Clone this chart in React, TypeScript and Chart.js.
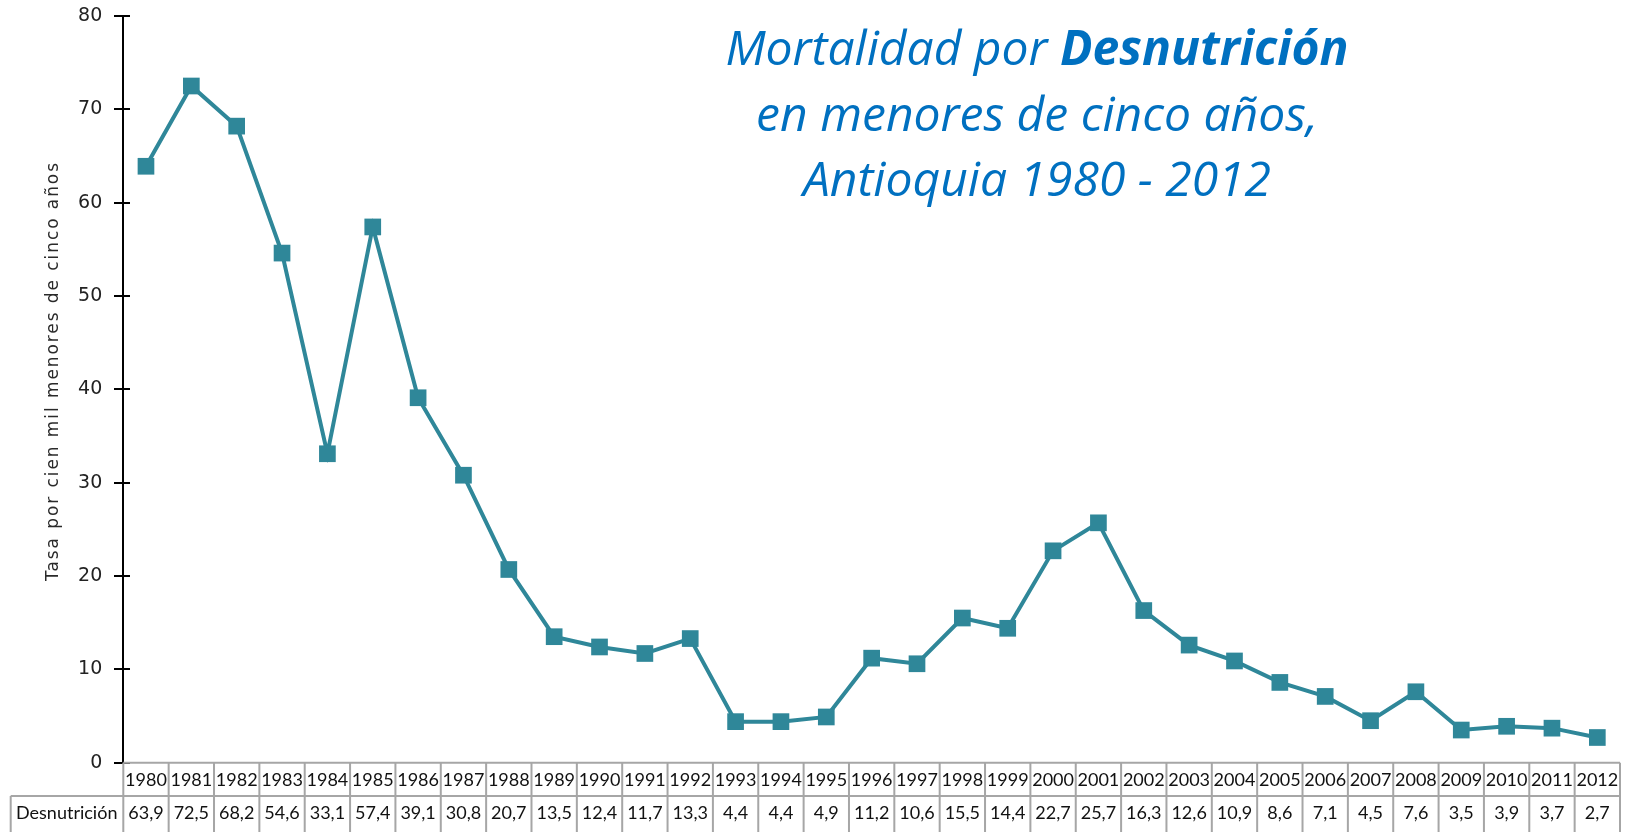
import { useEffect, useRef } from 'react';
import { Chart, registerables } from 'chart.js';

Chart.register(...registerables);

const years = [
  '1980', '1981', '1982', '1983', '1984', '1985', '1986', '1987', '1988', '1989',
  '1990', '1991', '1992', '1993', '1994', '1995', '1996', '1997', '1998', '1999',
  '2000', '2001', '2002', '2003', '2004', '2005', '2006', '2007', '2008', '2009',
  '2010', '2011', '2012',
];
const desnutricion = [
  63.9, 72.5, 68.2, 54.6, 33.1, 57.4, 39.1, 30.8, 20.7, 13.5,
  12.4, 11.7, 13.3, 4.4, 4.4, 4.9, 11.2, 10.6, 15.5, 14.4,
  22.7, 25.7, 16.3, 12.6, 10.9, 8.6, 7.1, 4.5, 7.6, 3.5,
  3.9, 3.7, 2.7,
];
const yTicks = [0, 10, 20, 30, 40, 50, 60, 70, 80];
const seriesLabel = 'Desnutrición';
const yTitle = 'Tasa por cien mil menores de cinco años';
const titleLine1Regular = 'Mortalidad por ';
const titleLine1Bold = 'Desnutrición';
const titleLine2 = 'en menores de cinco años,';
const titleLine3 = 'Antioquia 1980 - 2012';

const W = 1633;
const H = 832;
const TEAL = '#2f8799';
const BLUE = '#0070C0';

const fmt = (v: number) => v.toFixed(1).replace('.', ',');

const decorPlugin = {
  id: 'decor',
  afterDraw(chart: any) {
    const ctx: CanvasRenderingContext2D = chart.ctx;
    const x = chart.scales.x;
    const y = chart.scales.y;
    const area = chart.chartArea;
    ctx.save();

    // y tick marks crossing the axis
    ctx.strokeStyle = '#000';
    ctx.lineWidth = 2;
    yTicks.forEach((v) => {
      const py = Math.round(y.getPixelForValue(v));
      ctx.beginPath();
      ctx.moveTo(114, py);
      ctx.lineTo(130, py);
      ctx.stroke();
    });

    // data table
    const half = (x.getPixelForValue(1) - x.getPixelForValue(0)) / 2;
    const left = x.getPixelForValue(0) - half;
    const right = x.getPixelForValue(years.length - 1) + half;
    const r1Top = area.bottom;
    const rowH = 33.3;
    const r2Top = r1Top + rowH;
    const labelLeft = 10.7;

    ctx.strokeStyle = '#a6a6a6';
    ctx.lineWidth = 2;
    ctx.beginPath();
    ctx.moveTo(left, r1Top);
    ctx.lineTo(right, r1Top);
    ctx.moveTo(labelLeft, r2Top);
    ctx.lineTo(right, r2Top);
    ctx.moveTo(labelLeft, r2Top);
    ctx.lineTo(labelLeft, H);
    for (let i = 0; i <= years.length; i++) {
      const bx = left + i * half * 2;
      ctx.moveTo(bx, r1Top);
      ctx.lineTo(bx, H);
    }
    ctx.stroke();

    ctx.fillStyle = '#111';
    ctx.font = '18px Lato';
    ctx.textBaseline = 'middle';
    ctx.textAlign = 'center';
    years.forEach((yr, i) => {
      const cx = x.getPixelForValue(i);
      ctx.fillText(yr, cx, r1Top + rowH / 2 + 1);
      ctx.fillText(fmt(desnutricion[i]), cx, r2Top + rowH / 2 + 1);
    });
    ctx.textAlign = 'left';
    ctx.fillText(seriesLabel, 16, r2Top + rowH / 2 + 1);

    // y axis title
    ctx.save();
    ctx.font = '17px "DejaVu Sans"';
    ctx.fillStyle = '#2a2a2a';
    (ctx as any).letterSpacing = '0px';
    const w0 = ctx.measureText(yTitle).width;
    const target = 420;
    const ls = Math.max(0, (target - w0) / yTitle.length);
    (ctx as any).letterSpacing = ls + 'px';
    ctx.translate(58, 372);
    ctx.rotate(-Math.PI / 2);
    ctx.textAlign = 'center';
    ctx.textBaseline = 'alphabetic';
    ctx.fillText(yTitle, ls / 2, 0);
    ctx.restore();

    // chart title
    ctx.fillStyle = BLUE;
    ctx.textBaseline = 'alphabetic';
    ctx.textAlign = 'left';
    const cx = 1037;
    const fs = 48;
    const fam = '"Open Sans"';
    ctx.font = `italic 400 ${fs}px ${fam}`;
    const wa = ctx.measureText(titleLine1Regular).width;
    ctx.font = `italic 700 ${fs}px ${fam}`;
    const wb = ctx.measureText(titleLine1Bold).width;
    const sx = cx - (wa + wb) / 2;
    ctx.font = `italic 400 ${fs}px ${fam}`;
    ctx.fillText(titleLine1Regular, sx, 65);
    ctx.font = `italic 700 ${fs}px ${fam}`;
    ctx.fillText(titleLine1Bold, sx + wa, 65);
    ctx.font = `italic 400 ${fs}px ${fam}`;
    ctx.textAlign = 'center';
    ctx.fillText(titleLine2, cx, 130.5);
    ctx.fillText(titleLine3, cx, 196);

    ctx.restore();
  },
};

export default function App() {
  const ref = useRef<HTMLCanvasElement | null>(null);

  useEffect(() => {
    if (!ref.current) return;
    const chart = new Chart(ref.current, {
      type: 'line',
      data: {
        labels: years,
        datasets: [
          {
            label: seriesLabel,
            data: desnutricion,
            borderColor: TEAL,
            backgroundColor: TEAL,
            borderWidth: 4,
            pointStyle: 'rect',
            pointRadius: 11.8,
            pointHoverRadius: 11.8,
            pointBackgroundColor: TEAL,
            pointBorderWidth: 0,
            tension: 0,
            clip: false as any,
          },
        ],
      },
      options: {
        animation: false,
        responsive: false,
        devicePixelRatio: 1,
        events: [],
        layout: { padding: { left: 0, right: 13, top: 16, bottom: 69.3 } },
        plugins: {
          legend: { display: false },
          title: { display: false },
          tooltip: { enabled: false },
        },
        scales: {
          x: {
            type: 'category',
            offset: true,
            display: false,
          },
          y: {
            min: 0,
            max: 80,
            afterFit: (scale: any) => {
              scale.width = 123.3;
              scale.paddingTop = 0;
              scale.paddingBottom = 0;
            },
            ticks: {
              stepSize: 10,
              padding: 21,
              color: '#222222',
              font: { family: '"DejaVu Sans"', size: 19 },
            },
            grid: { display: false, drawTicks: false },
            border: { display: true, color: '#000', width: 2 },
          },
        },
      },
      plugins: [decorPlugin],
    });
    return () => chart.destroy();
  }, []);

  return (
    <div style={{ position: 'absolute', left: 0, top: 0, width: W, height: H, background: '#fff' }}>
      <canvas ref={ref} width={W} height={H} style={{ display: 'block' }} />
    </div>
  );
}
